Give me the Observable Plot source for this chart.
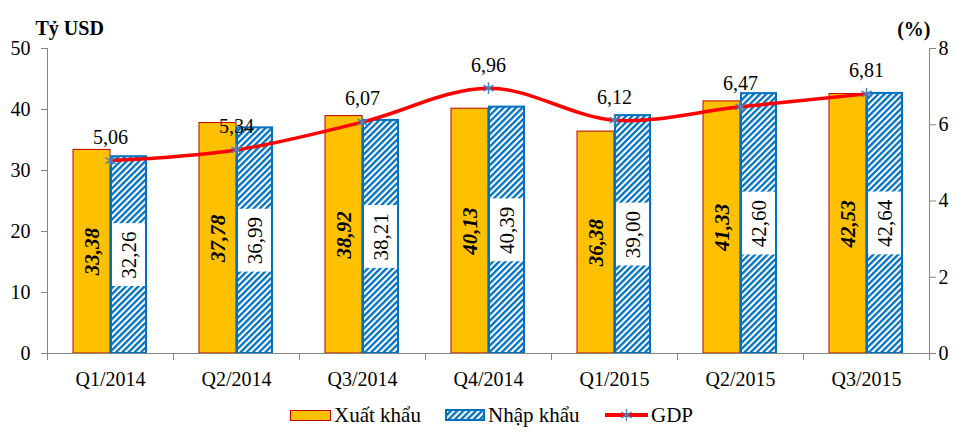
<!DOCTYPE html>
<html>
<head>
<meta charset="utf-8">
<script src="https://cdn.jsdelivr.net/npm/d3@7"></script>
<script src="https://cdn.jsdelivr.net/npm/@observablehq/plot@0.6"></script>
<style>
  html, body { margin: 0; padding: 0; background: #fff; }
  #chart svg { display: block; }
  #chart svg, #chart svg text { font-family: "Liberation Serif", "Times New Roman", "DejaVu Serif", serif !important; }
  .legend { position: relative; height: 50px; font-family: "Liberation Serif", "Times New Roman", "DejaVu Serif", serif; font-size: 21px; color: #000; }
  .legend .item { position: absolute; top: 0; height: 40px; display: flex; align-items: center; }
  .legend svg { display: block; margin-right: 3px; }
</style>
</head>
<body>
<svg width="0" height="0" style="position:absolute">
  <defs>
    <pattern id="hatch" patternUnits="userSpaceOnUse" width="4.4" height="4.4" patternTransform="rotate(45)">
      <rect width="4.4" height="4.4" fill="#ffffff"></rect>
      <rect width="2.3" height="4.4" fill="#0070C0"></rect>
    </pattern>
  </defs>
</svg>
<div id="chart"></div>
<div class="legend">
  <div class="item" style="left:290px">
    <svg width="41" height="11"><rect x="0.5" y="0.5" width="40" height="10" fill="#FFC000" stroke="#C00000" stroke-width="1"></rect></svg>
    <span>Xuất khẩu</span>
  </div>
  <div class="item" style="left:445px">
    <svg width="40" height="12"><rect x="1" y="1" width="38" height="10" fill="url(#hatch)" stroke="#0070C0" stroke-width="2"></rect></svg>
    <span>Nhập khẩu</span>
  </div>
  <div class="item" style="left:605px">
    <svg width="43" height="14"><line x1="0" y1="7" x2="43" y2="7" stroke="#FF0000" stroke-width="4"></line>
      <g stroke="#4F81BD" stroke-width="1.3"><line x1="21.5" y1="1" x2="21.5" y2="13"></line><line x1="16.3" y1="4" x2="26.7" y2="10"></line><line x1="16.3" y1="10" x2="26.7" y2="4"></line></g></svg>
    <span>GDP</span>
  </div>
</div>
<script>
const quarters = ["Q1/2014", "Q2/2014", "Q3/2014", "Q4/2014", "Q1/2015", "Q2/2015", "Q3/2015"];
const exportsBn = [33.38, 37.78, 38.92, 40.13, 36.38, 41.33, 42.53];
const importsBn = [32.26, 36.99, 38.21, 40.39, 39.00, 42.60, 42.64];
const gdpPct = [5.06, 5.34, 6.07, 6.96, 6.12, 6.47, 6.81];
const leftTicks = [0, 10, 20, 30, 40, 50];
const rightTicks = [0, 2, 4, 6, 8];

const yMax = 50, pMax = 8, k = yMax / pMax;
const rows = quarters.map((q, i) => ({q, exp: exportsBn[i], imp: importsBn[i], gdp: gdpPct[i]}));
const fmt = v => d3.format(".2f")(v).replace(".", ",");
const axisGray = "#868686";

const chart = Plot.plot({
  width: 975,
  height: 395,
  marginLeft: 47,
  marginRight: 46,
  marginTop: 48,
  marginBottom: 42,
  style: {fontFamily: "'Liberation Serif', 'Times New Roman', 'DejaVu Serif', serif", fontSize: "20px", color: "#000", background: "#fff", overflow: "visible"},
  x: {domain: quarters, paddingInner: 52 / 126, paddingOuter: 26 / 126, label: null},
  y: {domain: [0, yMax], label: null},
  marks: [
    Plot.barY(rows, {x: "q", y: "exp", insetRight: 37, fill: "#FFC000", stroke: "#C00000", strokeWidth: 1}),
    Plot.barY(rows, {x: "q", y: "imp", insetLeft: 38, insetRight: 1, fill: "url(#hatch)", stroke: "#0070C0", strokeWidth: 2}),
    Plot.barY(rows, {x: "q", y1: d => d.imp / 2 - 5.15, y2: d => d.imp / 2 + 5.15, insetLeft: 39, insetRight: 2, fill: "white"}),
    Plot.text(rows, {x: "q", y: d => d.exp / 2, text: d => fmt(d.exp), rotate: -90, dx: -18.5, fontSize: 21, fontWeight: "bold", fontStyle: "italic"}),
    Plot.text(rows, {x: "q", y: d => d.imp / 2, text: d => fmt(d.imp), rotate: -90, dx: 18.5, fontSize: 21}),
    Plot.ruleY([0], {stroke: axisGray}),
    Plot.ruleX(quarters, {x: d => d, dx: 63, y1: 0, y2: -1.15, stroke: axisGray}),
    Plot.ruleX([quarters[0]], {x: d => d, dx: -63, y1: -1.15, y2: yMax, stroke: axisGray}),
    Plot.ruleX([quarters[quarters.length - 1]], {x: d => d, dx: 63, y1: -1.15, y2: yMax, stroke: axisGray}),
    Plot.axisY(leftTicks, {anchor: "left", tickSize: 6, tickPadding: 11, stroke: axisGray, label: null}),
    Plot.axisY(rightTicks.map(v => v * k), {anchor: "right", tickSize: 6, tickPadding: 3, stroke: axisGray, tickFormat: d => String(Math.round(d / k)), label: null}),
    Plot.axisX({tickSize: 0, tickPadding: 18, label: null}),
    Plot.line(rows, {x: "q", y: d => d.gdp * k, curve: "catmull-rom", stroke: "#FF0000", strokeWidth: 3.5}),
    Plot.dot(rows, {x: "q", y: d => d.gdp * k, symbol: "asterisk", r: 5.5, stroke: "#4F81BD", strokeWidth: 1.5}),
    Plot.text(rows, {x: "q", y: d => d.gdp * k, text: d => fmt(d.gdp), dy: -23, fontSize: 20}),
    Plot.text(["Tỷ USD"], {text: d => d, frameAnchor: "top-left", dx: -12, dy: -28, textAnchor: "start", fontWeight: "bold", fontSize: 20}),
    Plot.text(["(%)"], {text: d => d, frameAnchor: "top-right", dx: 1, dy: -27, fontWeight: "bold", fontSize: 20})
  ]
});
document.getElementById("chart").appendChild(chart);
</script>
</body>
</html>
